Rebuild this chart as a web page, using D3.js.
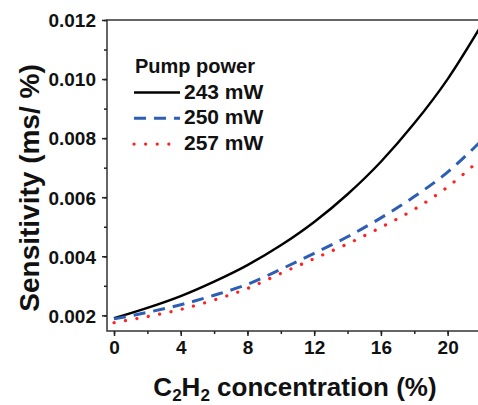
<!DOCTYPE html>
<html lang="en">
<head>
<meta charset="utf-8">
<title>Sensitivity vs C2H2 concentration</title>
<script src="https://cdn.jsdelivr.net/npm/d3@7"></script>
<style>
  body { margin: 0; background: #fff; }
  svg text { font-family: "Liberation Sans", Arial, sans-serif; font-weight: bold; fill: #111; }
  .axis path, .axis line { stroke: #222; stroke-width: 1.5; }
</style>
</head>
<body>
<script>
// concentration (%) and sensitivity (ms/%)
var conc = [0, 2, 4, 6, 8, 10, 12, 14, 16, 18, 20, 22];
var s243 = [0.0019, 0.00225, 0.00265, 0.00314, 0.0037, 0.00437, 0.00516, 0.0061, 0.0072, 0.0085, 0.0100, 0.0118];
var s250 = [0.00188, 0.0021, 0.00236, 0.00268, 0.00305, 0.00356, 0.0041, 0.00466, 0.0053, 0.00602, 0.00685, 0.0079];
var s257 = [0.00175, 0.00196, 0.0022, 0.00252, 0.00291, 0.00342, 0.00392, 0.00442, 0.00498, 0.00559, 0.00635, 0.0073];
var seriesNames = ["243 mW", "250 mW", "257 mW"];
var xTicks = [0, 4, 8, 12, 16, 20];
var yTicks = [0.002, 0.004, 0.006, 0.008, 0.010, 0.012];

var w = 478, h = 405;
var mLeft = 107, mRight = 481, mTop = 20, mBottom = 331;

var svg = d3.select("body").append("svg").attr("width", w).attr("height", h);

var x = d3.scaleLinear().domain([-0.42, 22]).range([mLeft, mRight]);
var y = d3.scaleLinear().domain([0.00147, 0.012]).range([mBottom, mTop]);

// frame
svg.append("rect")
  .attr("x", mLeft).attr("y", mTop)
  .attr("width", mRight - mLeft).attr("height", mBottom - mTop)
  .attr("fill", "none").attr("stroke", "#333").attr("stroke-width", 1.5);

// minor ticks
var xAxisMinor = d3.axisBottom(x).tickValues(d3.range(0, 23, 2)).tickSize(3).tickFormat("");
svg.append("g").attr("class", "axis").attr("transform", "translate(0," + mBottom + ")").call(xAxisMinor)
  .select(".domain").remove();
var yAxisMinor = d3.axisLeft(y).tickValues(d3.range(0.002, 0.0121, 0.001)).tickSize(3).tickFormat("");
svg.append("g").attr("class", "axis").attr("transform", "translate(" + mLeft + ",0)").call(yAxisMinor)
  .select(".domain").remove();

// major ticks with labels
var xAxis = d3.axisBottom(x).tickValues(xTicks).tickSize(5).tickPadding(5).tickFormat(d3.format("d"));
var gx = svg.append("g").attr("class", "axis").attr("transform", "translate(0," + mBottom + ")").call(xAxis);
gx.select(".domain").remove();
gx.selectAll("text").style("font-size", "19px").attr("fill", "#111");

var yAxis = d3.axisLeft(y).tickValues(yTicks).tickSize(5).tickPadding(6).tickFormat(d3.format(".3f"));
var gy = svg.append("g").attr("class", "axis").attr("transform", "translate(" + mLeft + ",0)").call(yAxis);
gy.select(".domain").remove();
gy.selectAll("text").style("font-size", "19px").attr("fill", "#111").attr("dy", "0.36em");

// curves
svg.append("clipPath").attr("id", "clip").append("rect")
  .attr("x", mLeft).attr("y", mTop).attr("width", mRight - mLeft).attr("height", mBottom - mTop);

var styles = [
  { color: "#000000", dash: null, width: 2.4, cap: "butt" },
  { color: "#2d5eb4", dash: "12,8", width: 3, cap: "butt" },
  { color: "#ff2222", dash: "0.1,11.5", width: 3.2, cap: "round" }
];
var allSeries = [s243, s250, s257];

var line = d3.line()
  .x(function(d) { return x(d[0]); })
  .y(function(d) { return y(d[1]); })
  .curve(d3.curveMonotoneX);

allSeries.forEach(function(s, i) {
  svg.append("path")
    .datum(conc.map(function(c, j) { return [c, s[j]]; }))
    .attr("clip-path", "url(#clip)")
    .attr("d", line)
    .attr("fill", "none")
    .attr("stroke", styles[i].color)
    .attr("stroke-width", styles[i].width)
    .attr("stroke-linecap", styles[i].cap)
    .attr("stroke-dasharray", styles[i].dash);
});

// legend
svg.append("text").attr("x", 135).attr("y", 73).style("font-size", "20px").text("Pump power");
seriesNames.forEach(function(name, i) {
  var ly = 92.5 + i * 25.8;
  svg.append("line")
    .attr("x1", 134).attr("x2", 180).attr("y1", ly).attr("y2", ly)
    .attr("stroke", styles[i].color)
    .attr("stroke-width", styles[i].width)
    .attr("stroke-linecap", styles[i].cap)
    .attr("stroke-dasharray", styles[i].dash);
  svg.append("text").attr("x", 184).attr("y", ly + 6).style("font-size", "21px").text(name);
});

// axis titles
var xt = svg.append("text").attr("x", 295).attr("y", 396).attr("text-anchor", "middle").style("font-size", "26px");
xt.append("tspan").text("C");
xt.append("tspan").attr("dy", 5).style("font-size", "17px").text("2");
xt.append("tspan").attr("dy", -5).text("H");
xt.append("tspan").attr("dy", 5).style("font-size", "17px").text("2");
xt.append("tspan").attr("dy", -5).text(" concentration (%)");

svg.append("text")
  .attr("transform", "translate(39,188) rotate(-90)")
  .attr("text-anchor", "middle")
  .style("font-size", "28px")
  .text("Sensitivity (ms/ %)");
</script>
</body>
</html>
